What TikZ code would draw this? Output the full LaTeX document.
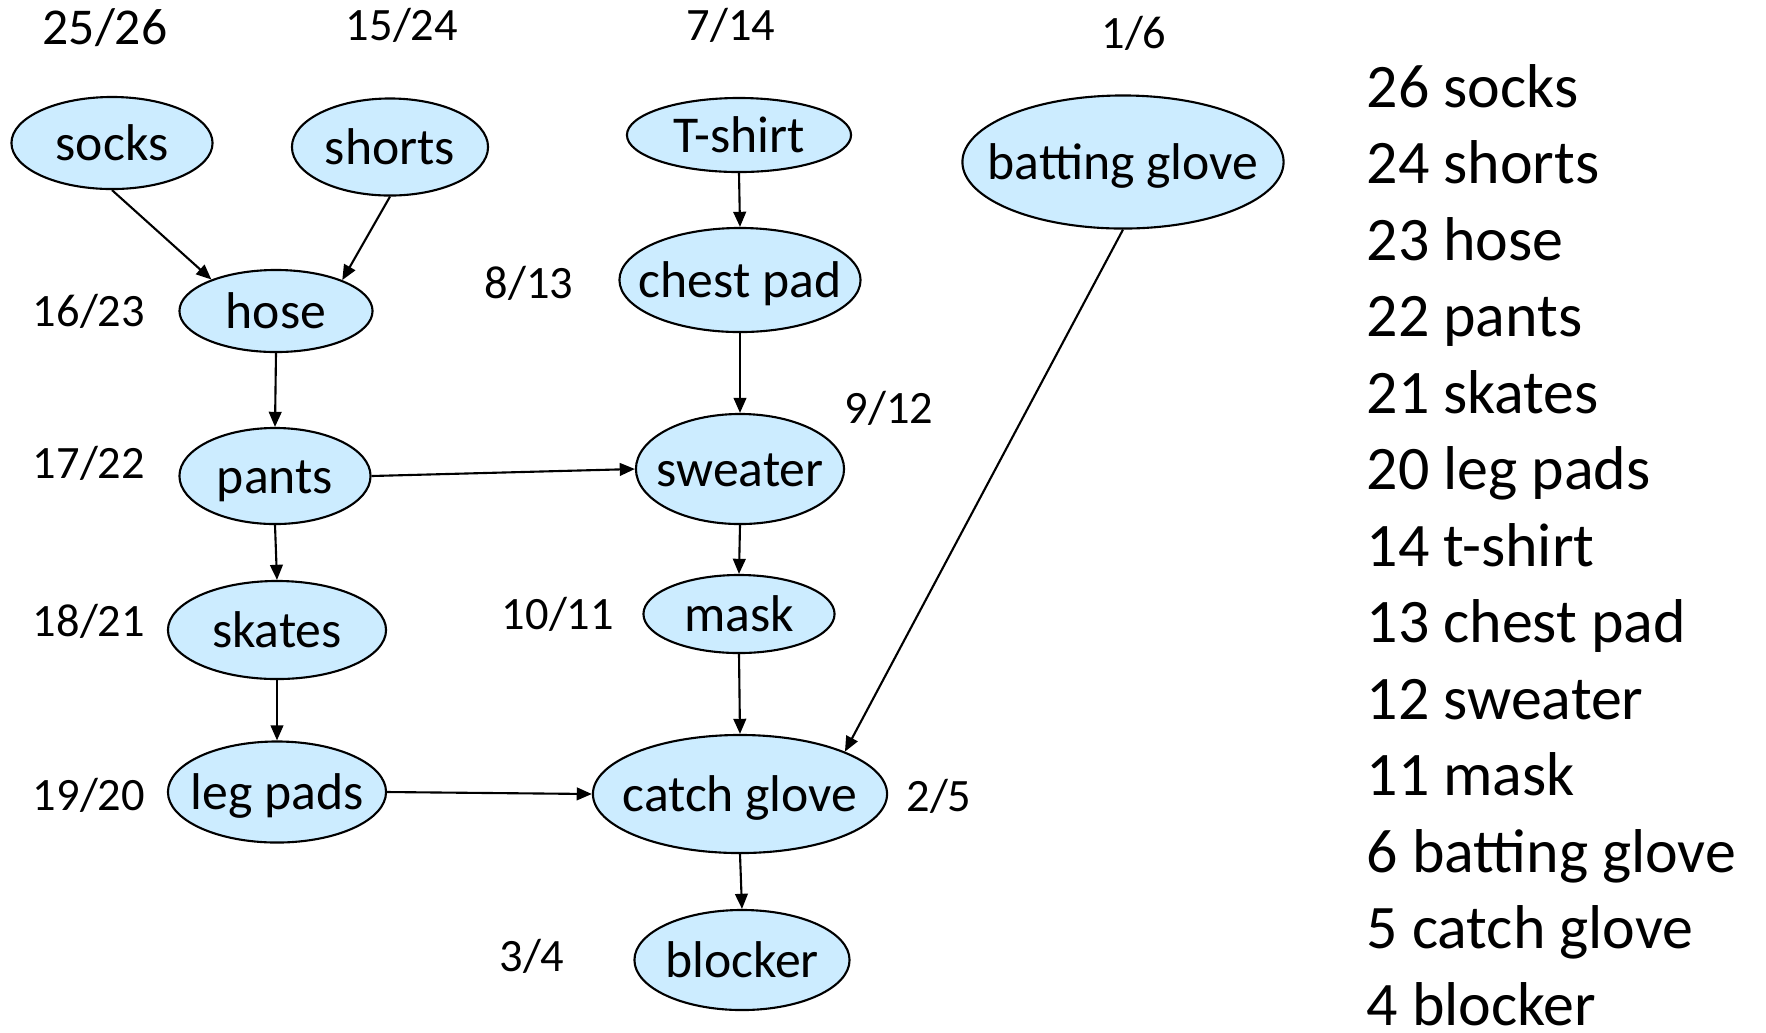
\documentclass[tikz,border=0pt]{standalone}
\usepackage{fontspec}
\setmainfont{Carlito}
\usetikzlibrary{shapes.geometric,arrows.meta}
\definecolor{nodefill}{RGB}{204,236,255}
\tikzset{
  item/.style={ellipse, draw=black, line width=0.6pt, fill=nodefill, inner sep=0pt,
    label={[font=\fontsize{14.7pt}{17pt}\selectfont, inner sep=0pt, text height=10.2pt, text depth=0pt]center:#1}},
  lbl/.style={font=\fontsize{13.2pt}{15pt}\selectfont, inner sep=0pt},
  lst/.style={font=\fontsize{17.6pt}{20pt}\selectfont, anchor=base west, inner sep=0pt},
  conn/.style={line width=0.6pt, -{Triangle[length=4.3pt,width=3.6pt]}}
}
\begin{document}
\begin{tikzpicture}[x=0.01cm,y=-0.01cm]
\useasboundingbox (0,0) rectangle (1766,1032);
% nodes
\node[item=socks, minimum width=2.01cm, minimum height=0.92cm] (socks) at (112,143) {};
\node[item=shorts, minimum width=1.96cm, minimum height=0.97cm] (shorts) at (390,147) {};
\node[item=hose, minimum width=1.93cm, minimum height=0.82cm] (hose) at (276,311) {};
\node[item=pants, minimum width=1.91cm, minimum height=0.96cm] (pants) at (275,476) {};
\node[item=skates, minimum width=2.18cm, minimum height=0.98cm] (skates) at (277,630) {};
\node[item=leg pads, minimum width=2.18cm, minimum height=1.01cm] (legpads) at (277,792) {};
\node[item=T-shirt, minimum width=2.24cm, minimum height=0.74cm] (tshirt) at (739,135) {};
\node[item=chest pad, minimum width=2.41cm, minimum height=1.04cm] (chest) at (740,280) {};
\node[item=sweater, minimum width=2.08cm, minimum height=1.10cm] (sweater) at (740,469) {};
\node[item=mask, minimum width=1.91cm, minimum height=0.78cm] (mask) at (739,614) {};
\node[item=catch glove, minimum width=2.94cm, minimum height=1.18cm] (catch) at (740,794) {};
\node[item=blocker, minimum width=2.15cm, minimum height=1.00cm] (blocker) at (742,960) {};
\node[item=batting glove, minimum width=3.21cm, minimum height=1.33cm] (batting) at (1123,162) {};
% labels
\node[lbl, font=\fontsize{14.7pt}{17pt}\selectfont] (n1) at (105,28) {25/26};
\node[lbl] (n2) at (402,25) {15/24};
\node[lbl] (n3) at (731,25) {7/14};
\node[lbl] (n4) at (1134,33) {1/6};
\node[lbl] (n5) at (89,311) {16/23};
\node[lbl] (n6) at (529,283) {8/13};
\node[lbl] (n7) at (889,408) {9/12};
\node[lbl] (n8) at (89,463) {17/22};
\node[lbl] (n9) at (89,621) {18/21};
\node[lbl] (n10) at (558,614) {10/11};
\node[lbl] (n11) at (89,795) {19/20};
\node[lbl] (n12) at (939,796) {2/5};
\node[lbl] (n13) at (532,956) {3/4};
% connectors
\draw[conn] (socks.south) -- (hose.154);
\draw[conn] (shorts.south) -- (hose.25);
\draw[conn] (hose.south) -- (pants.north);
\draw[conn] (pants.east) -- (sweater.west);
\draw[conn] (pants.south) -- (skates.north);
\draw[conn] (skates.south) -- (legpads.north);
\draw[conn] (tshirt.south) -- (chest.north);
\draw[conn] (chest.south) -- (sweater.north);
\draw[conn] (sweater.south) -- (mask.north);
\draw[conn] (mask.south) -- (catch.north);
\draw[conn] (legpads.east) -- (catch.west);
\draw[conn] (batting.south) -- (catch.22);
\draw[conn] (catch.south) -- (blocker.north);
% list
\node[lst] (l1) at (1366,107) {26 socks};
\node[lst] (l2) at (1366,183.5) {24 shorts};
\node[lst] (l3) at (1366,260) {23 hose};
\node[lst] (l4) at (1366,336.5) {22 pants};
\node[lst] (l5) at (1366,413) {21 skates};
\node[lst] (l6) at (1366,489.5) {20 leg pads};
\node[lst] (l7) at (1366,566) {14 t-shirt};
\node[lst] (l8) at (1366,642.5) {13 chest pad};
\node[lst] (l9) at (1366,719) {12 sweater};
\node[lst] (l10) at (1366,795.5) {11 mask};
\node[lst] (l11) at (1366,872) {6 batting glove};
\node[lst] (l12) at (1366,948.5) {5 catch glove};
\node[lst] (l13) at (1366,1025) {4 blocker};
\end{tikzpicture}
\end{document}
